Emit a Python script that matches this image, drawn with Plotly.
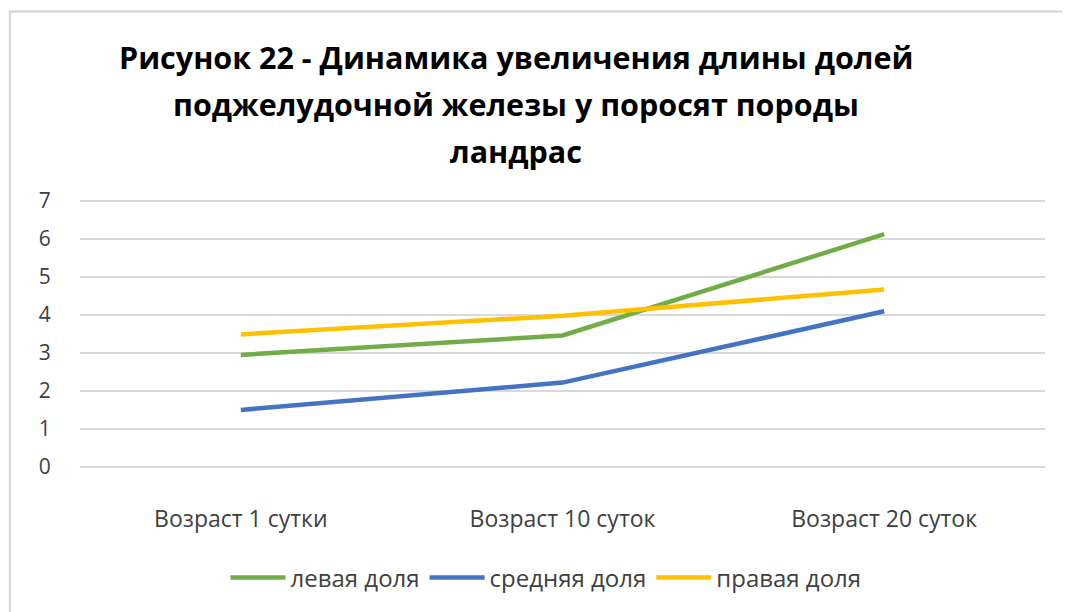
import plotly.graph_objects as go

categories = ["Возраст 1 сутки", "Возраст 10 суток", "Возраст 20 суток"]
left_lobe = [2.95, 3.46, 6.13]
middle_lobe = [1.5, 2.22, 4.1]
right_lobe = [3.49, 3.98, 4.67]
series_names = ["левая доля", "средняя доля", "правая доля"]
title_lines = ["Рисунок 22 - Динамика увеличения длины долей",
               "поджелудочной железы у поросят породы",
               "ландрас"]

FONT = "Open Sans, Liberation Sans, Arial"
colors = ["#70AD47", "#4472C4", "#FFC000"]

fig = go.Figure()
for name, vals, c in zip(series_names, [left_lobe, middle_lobe, right_lobe], colors):
    fig.add_trace(go.Scatter(x=categories, y=vals, mode="lines", name=name,
                             line=dict(color=c, width=4.5)))

W, H = 1070, 612
OFF = 8  # page body margin offset
ypad = 0.03
unit = (467 - 201.5) / 7
top_px = 201.5 - ypad * unit - OFF
bot_px = 467 + ypad * unit - OFF
L = 80 - OFF
R = W - (1045 - OFF)
T, B = top_px, H - bot_px
pw, ph = W - L - R, H - T - B

def px_x(p):
    return (p - OFF - L) / pw

def px_y(p):
    return (H - B - (p - OFF)) / ph

title_y = [57, 104, 151]
for line, yy in zip(title_lines, title_y):
    fig.add_annotation(text="<b>" + line + "</b>", xref="paper", yref="paper",
                       x=px_x(516), y=px_y(yy), xanchor="center", yanchor="middle",
                       showarrow=False, font=dict(family=FONT, size=30.5, color="#000000"))

fig.add_shape(type="rect", xref="paper", yref="paper",
              x0=px_x(10), x1=px_x(1090), y0=px_y(650), y1=px_y(12),
              line=dict(color="#d9d9d9", width=2.5), fillcolor="rgba(0,0,0,0)", layer="below")

fig.update_layout(
    width=W, height=H,
    margin=dict(l=L, r=R, t=T, b=B, autoexpand=False),
    paper_bgcolor="white", plot_bgcolor="white",
    showlegend=True,
    legend=dict(orientation="h", x=px_x(546), xanchor="center", y=px_y(578), yanchor="middle",
                font=dict(family=FONT, size=24, color="#404040"),
                traceorder="normal", itemwidth=55),
    xaxis=dict(showgrid=False, zeroline=False, showline=False, automargin=False,
               range=[-0.5, 2.5],
               ticks="outside", ticklen=30, tickcolor="rgba(0,0,0,0)",
               tickfont=dict(family=FONT, size=23, color="#404040")),
    yaxis=dict(range=[-ypad, 7 + ypad], dtick=1, tick0=0, showgrid=True, gridcolor="#d9d9d9",
               gridwidth=1.5, zeroline=False, showline=False, automargin=False,
               ticks="outside", ticklen=24, tickcolor="rgba(0,0,0,0)",
               tickfont=dict(family=FONT, size=21, color="#404040")),
)

fig.write_html("out.html")
